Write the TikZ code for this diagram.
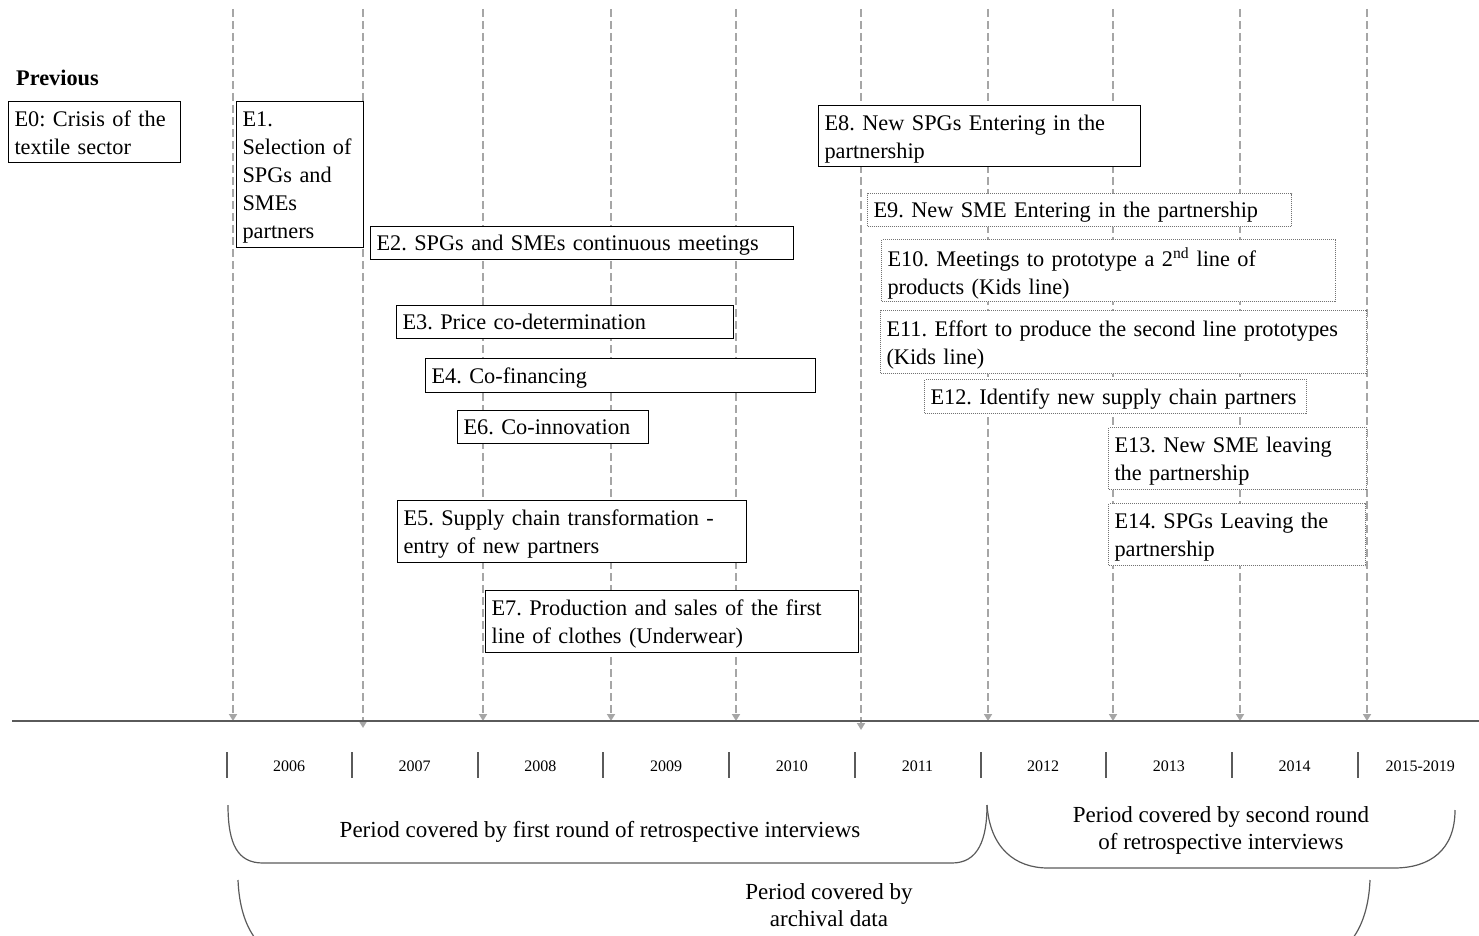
\documentclass[tikz,border=0pt]{standalone}
\usepackage{fontspec}
\setmainfont{Liberation Serif}
\usetikzlibrary{arrows.meta}
\frenchspacing
\hyphenpenalty=10000

\definecolor{guidegray}{RGB}{166,166,166}
\definecolor{axisgray}{RGB}{90,90,90}
\definecolor{dotgray}{RGB}{115,115,115}

\tikzset{
  every event/.style={anchor=north west, fill=white, align=left, inner xsep=6pt, inner ysep=1pt,
    font=\fontsize{22.3}{28}\selectfont},
  event solid/.style={every event, draw=black, line width=1.1pt},
  event dotted/.style={every event, draw=dotgray, line width=1pt, densely dotted},
  one line/.style={text depth=0pt},
  two lines/.style={text depth=27pt},
  guide/.style={guidegray, line width=2.4pt, dash pattern=on 8pt off 4pt},
  year tick/.style={axisgray, line width=1.3pt},
  period/.style={axisgray, line width=1.2pt},
  period label/.style={align=center, font=\fontsize{23}{27}\selectfont}
}

\begin{document}
\begin{tikzpicture}[x=1pt, y=-1pt, >={Triangle[width=8pt,length=7pt]}]

\useasboundingbox (0,0) rectangle (1479,936);
\clip (0,0) rectangle (1479,936);

% year guides
\foreach \x/\e [count=\i] in {233/721,363/728,483/721,611/721,736/721,861/730,988/721,1113/721,1240/721,1367/721} {
  \coordinate (top-\i) at (\x,9);
  \coordinate (bot-\i) at (\x,\e);
  \draw [guide, ->] (top-\i) -- (bot-\i);
}

% time axis
\coordinate (axis-w) at (12,721);
\coordinate (axis-e) at (1479,721);
\draw [axisgray, line width=1.3pt] (axis-w) -- (axis-e);

\foreach \x in {227,352,478,603,729,855,981,1106,1232,1358}
  \draw [year tick] (\x,752) -- (\x,778);

\foreach \l [count=\i from 0] in {2006,2007,2008,2009,2010,2011,2012,2013,2014,2015-2019}
  \node [font=\fontsize{16}{19}\selectfont] (year-\i) at (289+\i*125.7,766) {\l};

% events
\node [font=\bfseries\fontsize{22.3}{28}\selectfont, anchor=west, inner sep=0pt] (previous) at (16,78) {Previous};
\node [event solid, two lines, text width=160pt, minimum height=61pt] (e0) at (8,101) {E0: Crisis of the\\textile sector};
\node [event solid, text depth=111pt, text width=115pt, minimum height=146pt] (e1) at (236,101) {E1.\\Selection of\\SPGs and\\SMEs\\partners};
\node [event solid, one line, text width=411pt, minimum height=33pt] (e2) at (370,226) {E2. SPGs and SMEs continuous meetings};
\node [event solid, one line, text width=325pt, minimum height=33pt] (e3) at (396,305) {E3. Price co-determination};
\node [event solid, one line, text width=378pt, minimum height=34pt] (e4) at (425,358) {E4. Co-financing};
\node [event solid, one line, text width=179pt, minimum height=33pt] (e6) at (457,410) {E6. Co-innovation};
\node [event solid, two lines, text width=337pt, minimum height=62pt] (e5) at (397,500) {E5. Supply chain transformation -\\entry of new partners};
\node [event solid, two lines, text width=361pt, minimum height=62pt] (e7) at (485,590) {E7. Production and sales of the first\\line of clothes (Underwear)};
\node [event solid, two lines, text width=310pt, minimum height=61pt] (e8) at (818,105) {E8. New SPGs Entering in the\\partnership};
\node [event dotted, one line, text width=412pt, minimum height=33pt] (e9) at (867,193) {E9. New SME Entering in the partnership};
\node [event dotted, two lines, text width=442pt, minimum height=62pt] (e10) at (881,239) {E10. Meetings to prototype a 2\textsuperscript{nd} line of\\products (Kids line)};
\node [event dotted, two lines, text width=474pt, minimum height=63pt] (e11) at (880,310) {E11. Effort to produce the second line prototypes\\(Kids line)};
\node [event dotted, one line, text width=370pt, minimum height=34pt] (e12) at (924,379) {E12. Identify new supply chain partners};
\node [event dotted, two lines, text width=246pt, minimum height=62pt] (e13) at (1108,427) {E13. New SME leaving\\the partnership};
\node [event dotted, two lines, text width=245pt, minimum height=62pt] (e14) at (1108,503) {E14. SPGs Leaving the\\partnership};

% periods covered
\draw [period] (228,805) .. controls (228,845) and (238,863) .. (263,863) -- (952,863)
  .. controls (978,863) and (987,840) .. (987,805);
\draw [period] (987,805) .. controls (990,848) and (1015,868) .. (1048,868) -- (1394,868)
  .. controls (1430,868) and (1455,850) .. (1455,810);
\draw [period] (238,880) .. controls (240,930) and (262,960) .. (300,960) -- (1310,960)
  .. controls (1345,960) and (1368,930) .. (1370,880);

\node [period label] (round-1) at (600,832) {Period covered by first round of retrospective interviews};
\node [period label] (round-2) at (1221,830) {Period covered by second round\\of retrospective interviews};
\node [period label] (archive) at (829,905) {Period covered by\\archival data};

\end{tikzpicture}
\end{document}
